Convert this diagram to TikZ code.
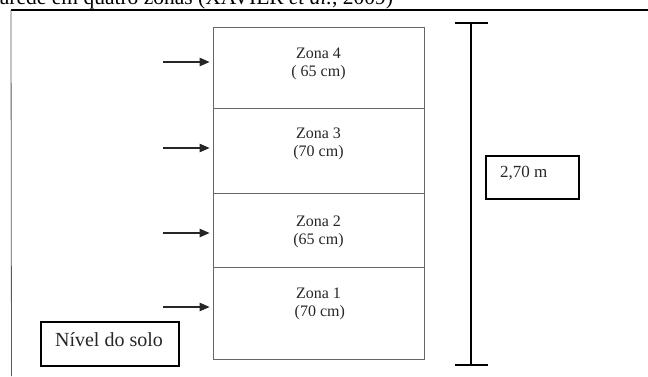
\documentclass[tikz,border=0pt]{standalone}
\usepackage{fontspec}
\setmainfont{Liberation Serif}
\usetikzlibrary{arrows.meta}
\begin{document}
\begin{tikzpicture}[x=1pt,y=1pt,
  zone/.style={draw=black!60,line width=0.9pt,minimum width=211pt,inner sep=0pt},
  zlabel/.style={align=center,text=black!85,font=\fontsize{16}{18}\selectfont,inner sep=0pt},
  framebox/.style={draw=black,line width=1.2pt,inner sep=0pt},
  push/.style={-{Triangle[length=10pt,width=8.5pt]},line width=1.1pt,black!85},
  dim/.style={line width=1.4pt,black}]
\useasboundingbox (0,0) rectangle (648,376);

% caption line, only partly inside the page
\node[anchor=base west,inner sep=0pt,font=\fontsize{21.5}{26}\selectfont] (cap) at (-11,371.5)
  {parede em quatro zonas (XAVIER \textit{et al.}, 2009)};

% page rule and left margin
\coordinate (tl) at (11,366);
\coordinate (tr) at (648,366);
\coordinate (bl) at (11.5,0);
\draw[line width=1.6pt,black] (tl) -- (tr);
\draw[line width=0.8pt,black!65] (tl) -- (bl);

% the wall, split into four zones
\node[zone,minimum height=81pt] (z4) at (318.5,308.5) {};
\node[zone,minimum height=85pt] (z3) at (318.5,225.5) {};
\node[zone,minimum height=74pt] (z2) at (318.5,146) {};
\node[zone,minimum height=92pt] (z1) at (318.5,63) {};

\node[zlabel] (l4) at (318.5,312) {Zona 4\\( 65 cm)};
\node[zlabel] (l3) at (318.5,232) {Zona 3\\(70 cm)};
\node[zlabel] (l2) at (318.5,144) {Zona 2\\(65 cm)};
\node[zlabel] (l1) at (318.5,72) {Zona 1\\\,(70 cm)};

% arrows pointing at each zone
\coordinate (a4) at (163,314);
\coordinate (a3) at (163,228);
\coordinate (a2) at (163,143);
\coordinate (a1) at (163,69);
\draw[push,shorten >=3pt] (a4) -- (a4 -| z4.west);
\draw[push,shorten >=3pt] (a3) -- (a3 -| z3.west);
\draw[push,shorten >=3pt] (a2) -- (a2 -| z2.west);
\draw[push,shorten >=3pt] (a1) -- (a1 -| z1.west);

% ground level label
\node[framebox,minimum width=138pt,minimum height=44pt] (solo) at (110,32) {};
\node[inner sep=0pt,text=black!85,font=\fontsize{20}{24}\selectfont] (solot) at (109,36) {Nível do solo};

% overall height
\coordinate (dt) at (471,353);
\coordinate (db) at (471,11);
\draw[dim] (dt) -- (db);
\draw[dim] ([xshift=-16pt]dt) -- ([xshift=17pt]dt);
\draw[dim] ([xshift=-16pt]db) -- ([xshift=17pt]db);

\node[framebox,minimum width=93pt,minimum height=43pt] (hbox) at (532.5,198.5) {};
\node[anchor=west,inner sep=0pt,text=black!85,font=\fontsize{17}{20}\selectfont] (ht) at (500,203) {2,70 m};
\end{tikzpicture}
\end{document}
